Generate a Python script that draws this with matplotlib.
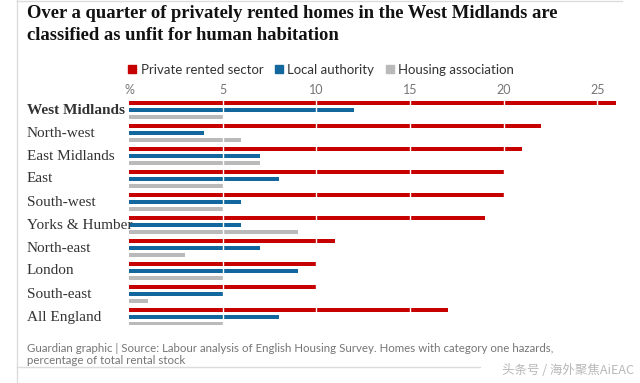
import numpy as np
import matplotlib.pyplot as plt
from matplotlib.lines import Line2D

# data (% of rental stock with category one hazards)
regions = ["West Midlands", "North-west", "East Midlands", "East", "South-west",
           "Yorks & Humber", "North-east", "London", "South-east", "All England"]
private_rented = [26, 22, 21, 20, 20, 19, 11, 10, 10, 17]
local_authority = [12, 4, 7, 8, 6, 6, 7, 9, 5, 8]
housing_assoc = [5, 6, 7, 5, 5, 9, 3, 5, 1, 5]
ticks = [0, 5, 10, 15, 20, 25]
tick_labels = ["%", "5", "10", "15", "20", "25"]

RED = "#c70000"
BLUE = "#12679e"
GREY = "#bababa"
TXT = "#333333"
SUB = "#767676"
SERIF = "Liberation Serif"

W, H = 640, 383
fig = plt.figure(figsize=(W / 100, H / 100), dpi=100)

def fx(px):
    return px / W

def fy(py):
    return 1 - py / H

ax = fig.add_axes([fx(129), fy(325), fx(618) - fx(129), fy(100) - fy(325)])

y = np.arange(len(regions))
bh = 0.18
off = 0.29
ax.barh(y - off, private_rented, height=bh, color=RED, zorder=2)
ax.barh(y, local_authority, height=bh, color=BLUE, zorder=2)
ax.barh(y + off, housing_assoc, height=bh, color=GREY, zorder=2)

for t in ticks[1:]:
    ax.axvline(t, color="white", lw=1, zorder=3)

ax.set_xlim(0, 26.1)
ax.set_ylim(9.35, -0.435)
ax.xaxis.tick_top()
ax.set_xticks(ticks)
ax.set_xticklabels(tick_labels)
ax.tick_params(axis="x", length=0, pad=3, labelsize=9, labelcolor=SUB)
for lab in ax.get_xticklabels():
    lab.set_fontfamily("Lato")
ax.set_yticks([])
for s in ax.spines.values():
    s.set_visible(False)

# category labels
for i, name in enumerate(regions):
    fig.text(fx(27), fy(110 + 23 * i), name, ha="left", va="center",
             fontsize=11, family=SERIF, color=TXT,
             fontweight="bold" if i == 0 else "normal")

# title
fig.text(fx(27), fy(14), "Over a quarter of privately rented homes in the West Midlands are",
         ha="left", va="center", fontsize=13.4, fontweight="bold", family=SERIF, color="#121212")
fig.text(fx(27), fy(36), "classified as unfit for human habitation",
         ha="left", va="center", fontsize=13.4, fontweight="bold", family=SERIF, color="#121212")

# legend
handles = [Line2D([], [], marker="s", ls="none", color=c, markersize=6)
           for c in (RED, BLUE, GREY)]
leg = fig.legend(handles, ["Private rented sector", "Local authority", "Housing association"],
                 loc="center left", bbox_to_anchor=(fx(116), fy(70)), ncol=3, frameon=False,
                 handlelength=0.7, handletextpad=0.3, columnspacing=0.8,
                 prop={"family": "Lato", "size": 9.5})
for t in leg.get_texts():
    t.set_color(TXT)

# footer
fig.text(fx(27), fy(348), "Guardian graphic | Source: Labour analysis of English Housing Survey. Homes with category one hazards,",
         ha="left", va="center", fontsize=8.3, family="Lato", color=SUB)
fig.text(fx(27), fy(361), "percentage of total rental stock",
         ha="left", va="center", fontsize=8.3, family="Lato", color=SUB)
fig.text(fx(634), fy(371), "头条号 / 海外聚焦AiEAC", ha="right", va="center",
         fontsize=9, family=["Noto Sans CJK SC", "DejaVu Sans"], color="#b8b8b8")

# frame lines
fig.add_artist(Line2D([fx(17), fx(17)], [0, 1], color="#dcdcdc", lw=1))
fig.add_artist(Line2D([fx(17), fx(622)], [fy(1), fy(1)], color="#dcdcdc", lw=1))
fig.add_artist(Line2D([fx(17), fx(480)], [fy(367), fy(367)], color="#dcdcdc", lw=1))

fig.savefig("out.png", dpi=100, facecolor="white")
